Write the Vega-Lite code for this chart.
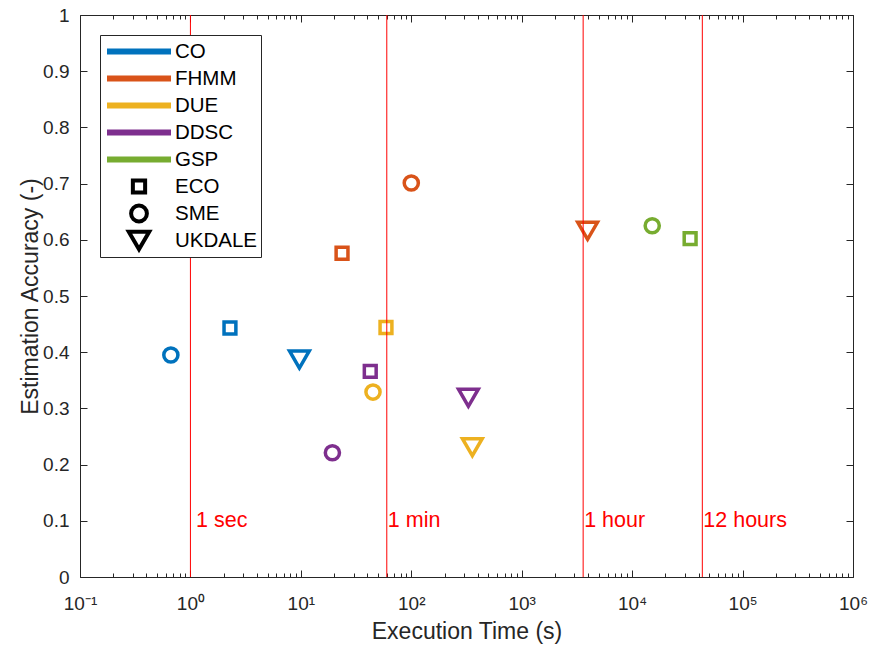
{
  "$schema": "https://vega.github.io/schema/vega-lite/v6.json",
  "width": 773,
  "height": 562,
  "autosize": {"type": "none"},
  "padding": {"left": 80, "top": 15, "right": 17, "bottom": 74},
  "background": "white",
  "config": {
    "view": {"stroke": "#262626", "strokeWidth": 1},
    "font": "Liberation Sans",
    "axis": {
      "domain": false,
      "grid": false,
      "tickColor": "#262626",
      "tickWidth": 1,
      "labelColor": "#262626",
      "titleColor": "#262626",
      "labelFont": "Liberation Sans",
      "titleFont": "Liberation Sans",
      "labelFontSize": 19,
      "titleFontSize": 23,
      "titleFontWeight": "normal"
    }
  },
  "datasets": {
    "results": [
      {"algorithm": "CO", "dataset": "ECO", "time": 2.28, "accuracy": 0.443},
      {"algorithm": "CO", "dataset": "SME", "time": 0.665, "accuracy": 0.395},
      {"algorithm": "CO", "dataset": "UKDALE", "time": 9.7, "accuracy": 0.387},
      {"algorithm": "FHMM", "dataset": "ECO", "time": 23.6, "accuracy": 0.576},
      {"algorithm": "FHMM", "dataset": "SME", "time": 100, "accuracy": 0.701},
      {"algorithm": "FHMM", "dataset": "UKDALE", "time": 3950, "accuracy": 0.616},
      {"algorithm": "DUE", "dataset": "ECO", "time": 59, "accuracy": 0.444},
      {"algorithm": "DUE", "dataset": "SME", "time": 45, "accuracy": 0.329},
      {"algorithm": "DUE", "dataset": "UKDALE", "time": 357, "accuracy": 0.231},
      {"algorithm": "DDSC", "dataset": "ECO", "time": 42.5, "accuracy": 0.366},
      {"algorithm": "DDSC", "dataset": "SME", "time": 19.3, "accuracy": 0.221},
      {"algorithm": "DDSC", "dataset": "UKDALE", "time": 329, "accuracy": 0.319},
      {"algorithm": "GSP", "dataset": "SME", "time": 15200, "accuracy": 0.625},
      {"algorithm": "GSP", "dataset": "ECO", "time": 33500, "accuracy": 0.602}
    ],
    "limits": [
      {"t": 1, "tx": 1.1, "label": "1 sec"},
      {"t": 60, "tx": 60, "label": "1 min"},
      {"t": 3600, "tx": 3600, "label": "1 hour"},
      {"t": 43200, "tx": 43200, "label": "12 hours"}
    ],
    "legendEntries": [
      {"name": "CO"}, {"name": "FHMM"}, {"name": "DUE"}, {"name": "DDSC"}, {"name": "GSP"},
      {"name": "ECO"}, {"name": "SME"}, {"name": "UKDALE"}
    ]
  },
  "layer": [
    {
      "data": {"name": "results"},
      "mark": {"type": "point", "filled": false, "strokeWidth": 3.5, "opacity": 1, "strokeJoin": "miter"},
      "encoding": {
        "x": {
          "field": "time", "type": "quantitative",
          "scale": {"type": "log", "domain": [0.1, 1000000], "nice": false},
          "axis": {
            "orient": "bottom",
            "title": "Execution Time (s)",
            "values": [0.1, 1, 10, 100, 1000, 10000, 100000, 1000000],
            "labelExpr": "'10' + ['⁻¹','⁰','¹','²','³','⁴','⁵','⁶'][round(log(datum.value)/LN10)+1]",
            "tickSize": -7,
            "labelPadding": 24,
            "titlePadding": 7,
            "labelFlush": false
          }
        },
        "y": {
          "field": "accuracy", "type": "quantitative",
          "scale": {"domain": [0, 1], "nice": false, "zero": false},
          "axis": {
            "orient": "left",
            "title": "Estimation Accuracy (-)",
            "values": [0, 0.1, 0.2, 0.3, 0.4, 0.5, 0.6, 0.7, 0.8, 0.9, 1],
            "format": "~g",
            "tickSize": -7,
            "labelPadding": 18,
            "titlePadding": 0,
            "labelFlush": false
          }
        },
        "color": {
          "field": "algorithm", "type": "nominal",
          "scale": {
            "domain": ["CO", "FHMM", "DUE", "DDSC", "GSP"],
            "range": ["#0072BD", "#D95319", "#EDB120", "#7E2F8E", "#77AC30"]
          },
          "legend": null
        },
        "shape": {
          "field": "dataset", "type": "nominal",
          "scale": {"domain": ["ECO", "SME", "UKDALE"], "range": ["square", "circle", "triangle-down"]},
          "legend": null
        },
        "size": {
          "field": "dataset", "type": "nominal",
          "scale": {"type": "ordinal", "domain": ["ECO", "SME", "UKDALE"], "range": [140, 200, 390]},
          "legend": null
        }
      }
    },
    {
      "data": {"name": "legendEntries"},
      "mark": {"type": "point", "filled": false, "opacity": 0, "strokeJoin": "miter"},
      "encoding": {
        "color": {
          "field": "name", "type": "nominal",
          "scale": {
            "domain": ["CO", "FHMM", "DUE", "DDSC", "GSP", "ECO", "SME", "UKDALE"],
            "range": ["#0072BD", "#D95319", "#EDB120", "#7E2F8E", "#77AC30", "#000000", "#000000", "#000000"]
          },
          "legend": {
            "title": null,
            "orient": "none",
            "legendX": 20,
            "legendY": 20,
            "padding": 3,
            "strokeColor": "#262626",
            "fillColor": "white",
            "labelFont": "Liberation Sans",
            "labelFontSize": 20.5,
            "labelColor": "#000000",
            "labelOffset": 1,
            "symbolOffset": 1,
            "symbolOpacity": 1,
            "symbolFillColor": "transparent",
            "clipHeight": 27,
            "rowPadding": 0
          }
        },
        "shape": {
          "field": "name", "type": "nominal",
          "scale": {
            "domain": ["CO", "FHMM", "DUE", "DDSC", "GSP", "ECO", "SME", "UKDALE"],
            "range": ["stroke", "stroke", "stroke", "stroke", "stroke", "square", "circle", "triangle-down"]
          }
        },
        "size": {
          "field": "name", "type": "nominal",
          "scale": {
            "type": "ordinal",
            "domain": ["CO", "FHMM", "DUE", "DDSC", "GSP", "ECO", "SME", "UKDALE"],
            "range": [4096, 4096, 4096, 4096, 4096, 150, 250, 420]
          }
        },
        "strokeWidth": {
          "field": "name", "type": "nominal",
          "scale": {
            "type": "ordinal",
            "domain": ["CO", "FHMM", "DUE", "DDSC", "GSP", "ECO", "SME", "UKDALE"],
            "range": [6, 6, 6, 6, 6, 4, 4, 4]
          }
        }
      }
    },
    {
      "data": {"name": "limits"},
      "mark": {"type": "rule", "color": "#FF0000", "strokeWidth": 1},
      "encoding": {
        "x": {
          "field": "t", "type": "quantitative",
          "scale": {"type": "log", "domain": [0.1, 1000000], "nice": false},
          "axis": {
            "orient": "top",
            "title": null,
            "labels": false,
            "values": [0.1, 1, 10, 100, 1000, 10000, 100000, 1000000],
            "tickSize": -7
          }
        }
      }
    },
    {
      "data": {"name": "limits"},
      "mark": {"type": "text", "color": "#FF0000", "align": "left", "baseline": "middle", "dx": 1, "fontSize": 21.5, "font": "Liberation Sans"},
      "encoding": {
        "x": {
          "field": "tx", "type": "quantitative",
          "scale": {"type": "log", "domain": [0.1, 1000000], "nice": false},
          "axis": {
            "orient": "bottom",
            "title": null,
            "labels": false,
            "values": [0.2,0.3,0.4,0.5,0.6,0.7,0.8,0.9,2,3,4,5,6,7,8,9,20,30,40,50,60,70,80,90,200,300,400,500,600,700,800,900,2000,3000,4000,5000,6000,7000,8000,9000,20000,30000,40000,50000,60000,70000,80000,90000,200000,300000,400000,500000,600000,700000,800000,900000],
            "tickSize": -4
          }
        },
        "y": {
          "datum": 0.1, "type": "quantitative",
          "scale": {"domain": [0, 1], "nice": false, "zero": false},
          "axis": {
            "orient": "right",
            "title": null,
            "labels": false,
            "values": [0, 0.1, 0.2, 0.3, 0.4, 0.5, 0.6, 0.7, 0.8, 0.9, 1],
            "tickSize": -7
          }
        },
        "text": {"field": "label", "type": "nominal"}
      }
    },
    {
      "data": {"name": "limits"},
      "mark": {"type": "rule", "opacity": 0},
      "encoding": {
        "x": {
          "field": "t", "type": "quantitative",
          "scale": {"type": "log", "domain": [0.1, 1000000], "nice": false},
          "axis": {
            "orient": "top",
            "title": null,
            "labels": false,
            "values": [0.2,0.3,0.4,0.5,0.6,0.7,0.8,0.9,2,3,4,5,6,7,8,9,20,30,40,50,60,70,80,90,200,300,400,500,600,700,800,900,2000,3000,4000,5000,6000,7000,8000,9000,20000,30000,40000,50000,60000,70000,80000,90000,200000,300000,400000,500000,600000,700000,800000,900000],
            "tickSize": -4
          }
        }
      }
    }
  ],
  "resolve": {
    "axis": {"x": "independent", "y": "independent"},
    "scale": {"color": "independent", "shape": "independent", "size": "independent", "strokeWidth": "independent"}
  }
}
